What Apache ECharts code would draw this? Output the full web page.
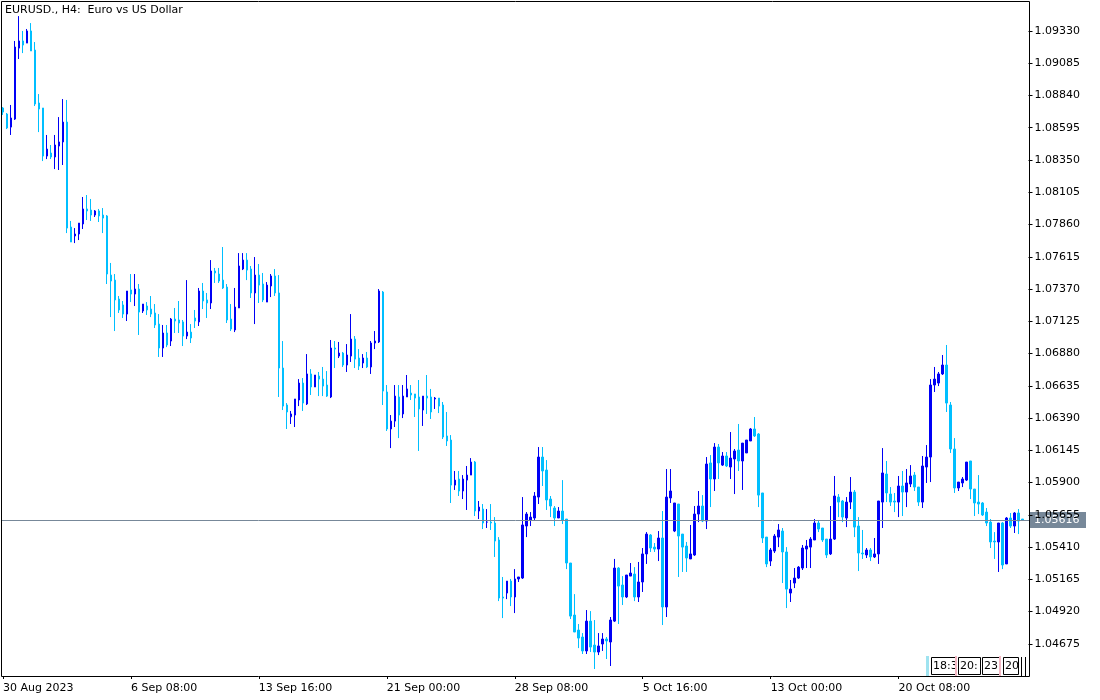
<!DOCTYPE html>
<html>
<head>
<meta charset="utf-8">
<script src="https://cdn.jsdelivr.net/npm/echarts@6/dist/echarts.min.js"></script>
<style>
html,body{margin:0;padding:0;background:#fff;}
#chart{width:1100px;height:700px;}
</style>
</head>
<body>
<div id="chart"></div>
<script>
// ---- DATA (EURUSD H4, 30 Aug 2023 -> 27 Oct 2023) ----
const openPrices = [
1.08745,1.08699,1.08600,1.08661,1.09200,1.09254,1.09238,1.09330,1.09185,1.08783,
1.08745,1.08380,1.08403,1.08373,1.08456,1.08487,1.08638,1.07841,1.07773,1.07788,
1.07864,1.07978,1.07970,1.07932,1.07963,1.07932,1.07925,1.07476,1.07438,1.07294,
1.07249,1.07180,1.07363,1.07332,1.07370,1.07203,1.07241,1.07218,1.07188,1.07104,
1.06922,1.07036,1.06975,1.07142,1.07135,1.07120,1.07013,1.07043,1.07150,1.07120,
1.07355,1.07287,1.07264,1.07507,1.07484,1.07438,1.07385,1.07142,1.07059,1.07226,
1.07522,1.07590,1.07522,1.07340,1.07476,1.07408,1.07271,1.07393,1.07469,1.07340,
1.06770,1.06489,1.06400,1.06413,1.06527,1.06656,1.06497,1.06725,1.06626,1.06709,
1.06686,1.06641,1.06550,1.06922,1.06861,1.06884,1.06793,1.06861,1.06990,1.06846,
1.06808,1.06846,1.06778,1.06960,1.06968,1.07347,1.06588,1.06307,1.06367,1.06550,
1.06421,1.06550,1.06580,1.06573,1.06550,1.06451,1.06557,1.06550,1.06535,1.06542,
1.06489,1.06254,1.06223,1.05881,1.05927,1.05836,1.05919,1.05957,1.06056,1.05684,
1.05699,1.05600,1.05600,1.05593,1.05464,1.05031,1.05061,1.05152,1.05031,1.05168,
1.05175,1.05570,1.05616,1.05631,1.05790,1.06094,1.05995,1.05775,1.05707,1.05631,
1.05684,1.05623,1.05289,1.04894,1.04780,1.04727,1.04621,1.04848,1.04666,1.04613,
1.04674,1.04712,1.04689,1.04848,1.05251,1.05122,1.05031,1.05190,1.05205,1.05031,
1.05145,1.05358,1.05502,1.05410,1.05395,1.05479,1.04955,1.05783,1.05532,1.05737,
1.05509,1.05418,1.05320,1.05350,1.05661,1.05722,1.05608,1.06049,1.05927,1.06170,
1.06033,1.06102,1.06018,1.06079,1.06147,1.06064,1.06125,1.06216,1.06307,1.06269,
1.05821,1.05486,1.05304,1.05380,1.05486,1.05532,1.05373,1.05061,1.05137,1.05175,
1.05251,1.05395,1.05410,1.05464,1.05593,1.05555,1.05471,1.05358,1.05471,1.05790,
1.05760,1.05631,1.05752,1.05828,1.05570,1.05365,1.05350,1.05388,1.05335,1.05358,
1.05752,1.05965,1.05813,1.05760,1.05752,1.05874,1.05828,1.05889,1.05957,1.05866,
1.05752,1.06018,1.06094,1.06641,1.06656,1.06725,1.06793,1.06489,1.06155,1.05859,
1.05897,1.05919,1.06064,1.05851,1.05752,1.05745,1.05676,1.05600,1.05456,1.05449,
1.05593,1.05282,1.05631,1.05570,1.05669,1.05623
];
const closePrices = [
1.08714,1.08593,1.08669,1.09208,1.09254,1.09223,1.09330,1.09178,1.08775,1.08737,
1.08380,1.08433,1.08373,1.08464,1.08487,1.08638,1.07833,1.07727,1.07788,1.07871,
1.07978,1.07963,1.07932,1.07963,1.07925,1.07909,1.07484,1.07431,1.07287,1.07211,
1.07180,1.07355,1.07332,1.07370,1.07195,1.07256,1.07211,1.07180,1.07097,1.06922,
1.07036,1.06945,1.07142,1.07127,1.07112,1.07013,1.07043,1.06998,1.07127,1.07355,
1.07279,1.07264,1.07507,1.07492,1.07431,1.07378,1.07135,1.07066,1.07233,1.07545,
1.07590,1.07514,1.07340,1.07476,1.07400,1.07287,1.07400,1.07469,1.07340,1.06770,
1.06481,1.06436,1.06421,1.06535,1.06656,1.06504,1.06725,1.06626,1.06717,1.06686,
1.06633,1.06557,1.06922,1.06914,1.06884,1.06793,1.06869,1.06990,1.06838,1.06785,
1.06846,1.06778,1.06960,1.06975,1.07355,1.06595,1.06307,1.06367,1.06557,1.06413,
1.06557,1.06611,1.06565,1.06542,1.06459,1.06557,1.06542,1.06436,1.06542,1.06481,
1.06246,1.06216,1.05881,1.05919,1.05836,1.05927,1.05957,1.06056,1.05684,1.05714,
1.05593,1.05600,1.05593,1.05456,1.05023,1.05023,1.05152,1.05031,1.05168,1.05183,
1.05578,1.05661,1.05638,1.05798,1.06094,1.05988,1.05768,1.05722,1.05631,1.05684,
1.05616,1.05289,1.04886,1.04765,1.04719,1.04621,1.04848,1.04651,1.04613,1.04659,
1.04712,1.04697,1.04856,1.05251,1.05114,1.05031,1.05198,1.05213,1.05031,1.05145,
1.05358,1.05509,1.05403,1.05395,1.05479,1.04955,1.05790,1.05836,1.05745,1.05494,
1.05410,1.05327,1.05358,1.05661,1.05722,1.05608,1.06041,1.05927,1.06170,1.06049,
1.06102,1.06026,1.06086,1.06140,1.06064,1.06200,1.06223,1.06307,1.06254,1.05805,
1.05479,1.05282,1.05388,1.05494,1.05540,1.05373,1.05091,1.05091,1.05175,1.05258,
1.05403,1.05418,1.05471,1.05593,1.05547,1.05464,1.05350,1.05471,1.05798,1.05752,
1.05638,1.05752,1.05828,1.05562,1.05365,1.05358,1.05388,1.05335,1.05358,1.05760,
1.05973,1.05821,1.05752,1.05752,1.05874,1.05828,1.05897,1.05950,1.05866,1.05752,
1.06026,1.06094,1.06641,1.06686,1.06725,1.06793,1.06504,1.06155,1.05859,1.05904,
1.05927,1.06056,1.05851,1.05745,1.05737,1.05654,1.05593,1.05449,1.05449,1.05593,
1.05274,1.05631,1.05570,1.05669,1.05608,1.05616
];
const lowPrices = [
1.08692,1.08585,1.08540,1.08654,1.09117,1.09162,1.09238,1.09178,1.08760,1.08562,
1.08342,1.08357,1.08357,1.08281,1.08274,1.08312,1.07795,1.07727,1.07719,1.07742,
1.07826,1.07894,1.07887,1.07917,1.07879,1.07795,1.07408,1.07157,1.07051,1.07188,
1.07150,1.07127,1.07271,1.07241,1.07021,1.07188,1.07173,1.07157,1.07074,1.06854,
1.06854,1.06929,1.06937,1.07036,1.07036,1.06937,1.06990,1.06960,1.07074,1.07089,
1.07218,1.07150,1.07218,1.07416,1.07416,1.07370,1.07112,1.07051,1.07043,1.07226,
1.07514,1.07438,1.07302,1.07104,1.07264,1.07271,1.07271,1.07309,1.07317,1.06550,
1.06451,1.06307,1.06345,1.06322,1.06481,1.06444,1.06489,1.06565,1.06626,1.06557,
1.06557,1.06550,1.06542,1.06770,1.06846,1.06778,1.06740,1.06816,1.06770,1.06755,
1.06770,1.06770,1.06725,1.06914,1.06960,1.06489,1.06292,1.06162,1.06322,1.06238,
1.06390,1.06550,1.06527,1.06398,1.06140,1.06330,1.06421,1.06383,1.06459,1.06428,
1.06231,1.06178,1.05745,1.05844,1.05798,1.05775,1.05692,1.05957,1.05646,1.05623,
1.05547,1.05555,1.05540,1.05335,1.05000,1.04871,1.05015,1.04962,1.04909,1.05145,
1.05168,1.05486,1.05570,1.05608,1.05737,1.05874,1.05692,1.05638,1.05570,1.05631,
1.05585,1.05243,1.04864,1.04765,1.04643,1.04598,1.04598,1.04613,1.04484,1.04590,
1.04621,1.04560,1.04507,1.04841,1.04826,1.04970,1.05023,1.05190,1.05000,1.04993,
1.05069,1.05282,1.05373,1.05373,1.05304,1.04818,1.04879,1.05745,1.05524,1.05183,
1.05221,1.05221,1.05320,1.05343,1.05600,1.05600,1.05547,1.05714,1.05836,1.05927,
1.06026,1.06018,1.05927,1.05813,1.05988,1.05844,1.06125,1.06216,1.06246,1.05714,
1.05441,1.05258,1.05266,1.05365,1.05410,1.05137,1.04947,1.04993,1.05099,1.05168,
1.05236,1.05251,1.05251,1.05464,1.05524,1.05449,1.05327,1.05350,1.05464,1.05638,
1.05600,1.05562,1.05699,1.05486,1.05228,1.05320,1.05327,1.05304,1.05327,1.05282,
1.05555,1.05752,1.05722,1.05676,1.05638,1.05646,1.05714,1.05866,1.05836,1.05722,
1.05707,1.05897,1.05904,1.06588,1.06633,1.06717,1.06436,1.06125,1.05821,1.05836,
1.05866,1.05912,1.05775,1.05646,1.05661,1.05646,1.05570,1.05403,1.05320,1.05221,
1.05243,1.05282,1.05555,1.05517,1.05509,1.05608
];
const highPrices = [
1.08752,1.08707,1.08768,1.09254,1.09443,1.09330,1.09345,1.09390,1.09246,1.08851,
1.08745,1.08540,1.08464,1.08540,1.08676,1.08813,1.08806,1.07887,1.07833,1.07871,
1.08069,1.08084,1.08054,1.07970,1.07978,1.07985,1.07932,1.07568,1.07484,1.07317,
1.07279,1.07355,1.07484,1.07484,1.07408,1.07256,1.07271,1.07317,1.07256,1.07180,
1.07097,1.07097,1.07150,1.07226,1.07279,1.07135,1.07438,1.07104,1.07211,1.07378,
1.07416,1.07340,1.07590,1.07530,1.07530,1.07689,1.07408,1.07256,1.07378,1.07643,
1.07643,1.07643,1.07545,1.07613,1.07560,1.07492,1.07423,1.07484,1.07522,1.07476,
1.06975,1.06504,1.06444,1.06535,1.06686,1.06694,1.06876,1.06762,1.06717,1.06740,
1.06778,1.06747,1.06983,1.06975,1.06968,1.06892,1.06952,1.07180,1.07013,1.06914,
1.06876,1.06892,1.06975,1.07051,1.07370,1.07355,1.06641,1.06413,1.06641,1.06641,
1.06641,1.06717,1.06641,1.06573,1.06679,1.06557,1.06717,1.06611,1.06550,1.06542,
1.06512,1.06436,1.06261,1.05988,1.05988,1.05957,1.06026,1.06086,1.06064,1.05760,
1.05737,1.05699,1.05737,1.05638,1.05486,1.05183,1.05152,1.05168,1.05243,1.05183,
1.05790,1.05676,1.05676,1.05828,1.06170,1.06170,1.06071,1.05798,1.05722,1.05714,
1.05919,1.05623,1.05289,1.05053,1.04826,1.04757,1.04932,1.04924,1.04856,1.04757,
1.04757,1.04727,1.04879,1.05320,1.05258,1.05190,1.05198,1.05289,1.05258,1.05297,
1.05403,1.05524,1.05509,1.05441,1.05532,1.05684,1.06003,1.06003,1.05745,1.05737,
1.05509,1.05449,1.05578,1.05722,1.05836,1.05805,1.06094,1.06109,1.06200,1.06193,
1.06132,1.06132,1.06284,1.06155,1.06345,1.06200,1.06223,1.06314,1.06398,1.06276,
1.05821,1.05486,1.05403,1.05509,1.05585,1.05555,1.05410,1.05160,1.05251,1.05266,
1.05426,1.05464,1.05486,1.05623,1.05616,1.05555,1.05471,1.05722,1.05950,1.05813,
1.05768,1.05790,1.05942,1.05844,1.05638,1.05540,1.05403,1.05403,1.05479,1.05760,
1.06162,1.06064,1.05866,1.05821,1.05950,1.05988,1.06003,1.06033,1.05980,1.05866,
1.06102,1.06185,1.06686,1.06778,1.06740,1.06869,1.06945,1.06512,1.06238,1.05904,
1.05942,1.06056,1.06064,1.05851,1.05957,1.05752,1.05707,1.05623,1.05524,1.05593,
1.05600,1.05638,1.05669,1.05676,1.05699,1.05623
];
const xTickLabels = ['30 Aug 2023','6 Sep 08:00','13 Sep 16:00','21 Sep 00:00','28 Sep 08:00','5 Oct 16:00','13 Oct 00:00','20 Oct 08:00'];
const xTickEvery = 32;
const yTickLabels = ['1.09330','1.09085','1.08840','1.08595','1.08350','1.08105','1.07860','1.07615','1.07370','1.07125','1.06880','1.06635','1.06390','1.06145','1.05900','1.05655','1.05410','1.05165','1.04920','1.04675'];
const currentPrice = 1.05616;
const titleText = 'EURUSD., H4:  Euro vs US Dollar';

// categories: H4 bars (index-based), plus one empty slot on the right
const nBars = openPrices.length;
const categories = [];
for (let i = 0; i < nBars + 1; i++) categories.push(String(i));
const candleData = openPrices.map((o, i) => [o, closePrices[i], lowPrices[i], highPrices[i]]);
const yTickValues = yTickLabels.map(parseFloat);

const BULL = '#0000F5';
const BEAR = '#00BFFF';
const FONT = 'DejaVu Sans';
const GRID = {left: 0.5, right: 71.5, top: 2, bottom: 24};
const FRAME = {x1: 1.5, y1: 1.5, x2: 1029.5, y2: 676.5};

const chart = echarts.init(document.getElementById('chart'), null, {renderer: 'canvas'});
const showTick = (idx) => idx % xTickEvery === 0 && idx / xTickEvery < xTickLabels.length;
const option = {
  animation: false,
  backgroundColor: '#ffffff',
  grid: Object.assign({show: false}, GRID),
  xAxis: {
    type: 'category',
    data: categories,
    boundaryGap: true,
    axisLine: {show: false},
    axisTick: {show: true, alignWithLabel: true, length: 3, interval: showTick, lineStyle: {color: '#000'}},
    axisLabel: {
      show: true,
      interval: showTick,
      formatter: (val, idx) => xTickLabels[idx / xTickEvery] || '',
      align: 'left',
      margin: 7,
      color: '#000',
      fontFamily: FONT,
      fontSize: 11
    },
    splitLine: {show: false}
  },
  yAxis: {
    type: 'value',
    position: 'right',
    scale: true,
    min: 1.04431,
    max: 1.09550,
    axisLine: {show: false},
    axisTick: {show: true, length: 4, customValues: yTickValues, lineStyle: {color: '#000'}},
    axisLabel: {
      show: true,
      customValues: yTickValues,
      formatter: (v) => v.toFixed(5),
      margin: 6,
      color: '#000',
      fontFamily: FONT,
      fontSize: 11
    },
    splitLine: {show: false}
  },
  series: [{
    type: 'candlestick',
    data: candleData,
    barWidth: 2,
    itemStyle: {color: BULL, color0: BEAR, borderColor: BULL, borderColor0: BEAR, borderWidth: 1}
  }]
};
chart.setOption(option);

// overlays: frame, current price line + box, title, and the small time boxes bottom right
const py = Math.round(chart.convertToPixel({yAxisIndex: 0}, currentPrice)) + 0.5;
const gfx = [
  {type: 'rect', z: 60, silent: true, shape: {x: FRAME.x1, y: FRAME.y1, width: FRAME.x2 - FRAME.x1, height: FRAME.y2 - FRAME.y1}, style: {fill: 'none', stroke: '#000', lineWidth: 1}},
  {type: 'line', z: 50, silent: true, shape: {x1: FRAME.x1, y1: py, x2: FRAME.x2, y2: py}, style: {stroke: '#778899', lineWidth: 1}},
  {type: 'text', left: 5, top: 5, z: 100, style: {text: titleText, font: '11px "DejaVu Sans"', fill: '#000'}},
  {type: 'group', z: 100, children: [
    {type: 'rect', shape: {x: 1030, y: py - 8.5, width: 56, height: 16}, style: {fill: '#778899'}},
    {type: 'text', x: 1034, y: py, style: {text: currentPrice.toFixed(5), font: '11px "DejaVu Sans"', fill: '#ffffff', verticalAlign: 'middle'}}
  ]}
];
const boxes = [
  {x: 931, w: 24, t: '18:3'},
  {x: 958, w: 22, t: '20:'},
  {x: 982, w: 17, t: '23'},
  {x: 1003, w: 15, t: '20'}
];
gfx.push({type: 'rect', z: 90, shape: {x: 926, y: 656, width: 3, height: 20}, style: {fill: '#9fe3f0'}});
gfx.push({type: 'rect', z: 90, shape: {x: 955, y: 656, width: 2, height: 20}, style: {fill: '#f4b8c4'}});
gfx.push({type: 'rect', z: 90, shape: {x: 999, y: 656, width: 2, height: 20}, style: {fill: '#f4b8c4'}});
boxes.forEach(b => {
  gfx.push({type: 'group', z: 95, children: [
    {type: 'rect', shape: {x: b.x + 0.5, y: 657.5, width: b.w, height: 17}, style: {fill: '#fff', stroke: '#000', lineWidth: 1}},
    {type: 'text', x: b.x + 2, y: 666, style: {text: b.t, font: '11px "DejaVu Sans"', fill: '#000', verticalAlign: 'middle'}}
  ]});
});
[1021, 1025].forEach(x => gfx.push({type: 'line', z: 95, shape: {x1: x + 0.5, y1: 657, x2: x + 0.5, y2: 676}, style: {stroke: '#000', lineWidth: 1}}));
chart.setOption({graphic: gfx});
</script>
</body>
</html>
